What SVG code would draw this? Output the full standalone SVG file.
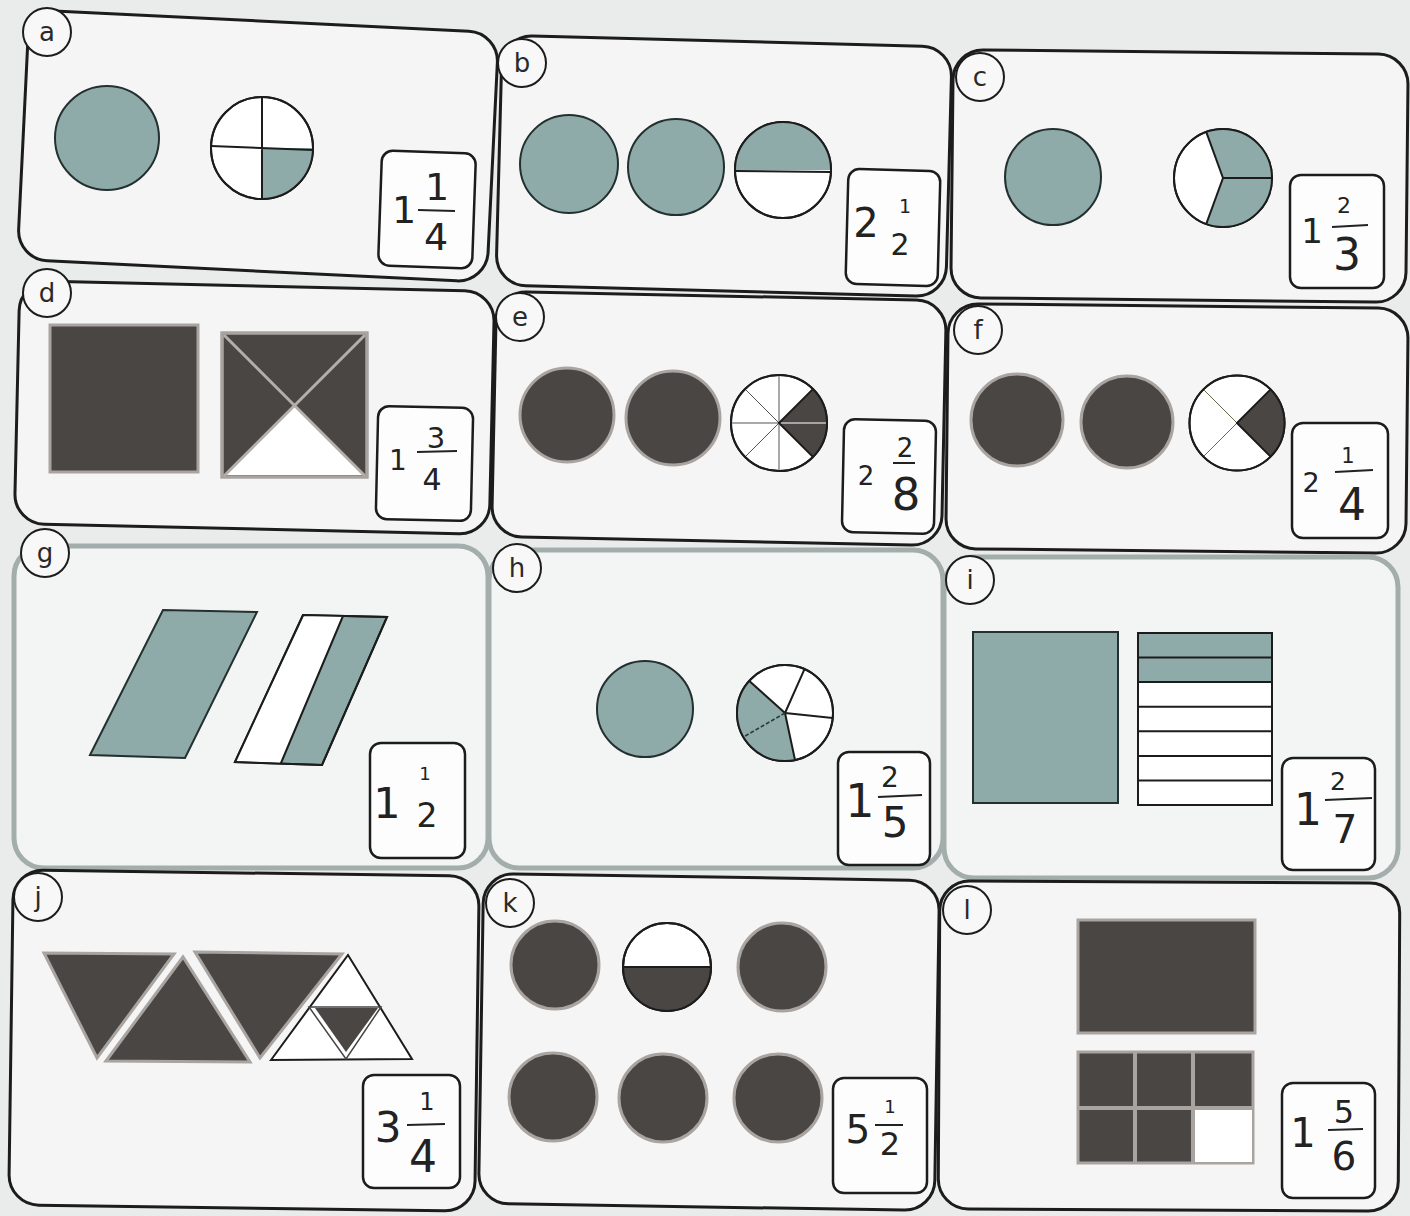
<svg xmlns="http://www.w3.org/2000/svg" width="1410" height="1216" viewBox="0 0 1410 1216">
<style>
.card{fill:#f4f5f4;stroke:#1c1c1c;stroke-width:3}
.card2{fill:#f3f5f4;stroke:#a3adac;stroke-width:5}
.lbl{fill:#f8f8f8;stroke:#1c1c1c;stroke-width:2}
.lt{font-family:"DejaVu Sans","Liberation Sans",sans-serif;font-size:26px;fill:#2a2a2a;text-anchor:middle}
.teal{fill:#8eaba9;stroke:#23302f;stroke-width:2}
.tealf{fill:#8eaba9;stroke:none}
.dark{fill:#4a4644;stroke:#aaa4a1;stroke-width:3}
.darkf{fill:#4a4644;stroke:none}
.wh{fill:#ffffff;stroke:#1c1c1c;stroke-width:2}
.ln{stroke:#1c1c1c;stroke-width:2;fill:none}
.thin{stroke:#555;stroke-width:1;fill:none}
.gl{stroke:#b5afab;stroke-width:3;fill:none}
.box{fill:#fdfdfd;stroke:#1c1c1c;stroke-width:2.5}
.n{font-family:"DejaVu Sans","Liberation Sans",sans-serif;fill:#222;text-anchor:middle}
.bar{stroke:#222;stroke-width:2}
</style>
<rect x="0" y="0" width="1410" height="1216" fill="#e9ecea"/>

<g id="card-a">
<rect class="card" x="23" y="21" width="470" height="250" rx="30" transform="rotate(2.8 258 146)"/>
<circle class="lbl" cx="47" cy="32" r="24"/><text class="lt" x="47" y="41">a</text>
<circle class="teal" cx="107" cy="138" r="52"/>
<circle class="wh" cx="262" cy="148" r="51"/>
<path class="tealf" d="M262 148 L313 148 A51 51 0 0 1 262 199 Z"/>
<circle class="ln" cx="262" cy="148" r="51"/>
<path class="ln" d="M262 97 V199 M211 146 L313 150"/>
<rect class="box" x="380" y="152" width="94" height="115" rx="11" transform="rotate(2 427 210)"/>
<text class="n" x="404" y="223" font-size="38">1</text>
<text class="n" x="437" y="200" font-size="38">1</text>
<line class="bar" x1="418" y1="210" x2="455" y2="211"/>
<text class="n" x="436" y="250" font-size="38">4</text>
</g>

<g id="card-b">
<rect class="card" x="499" y="41" width="450" height="250" rx="30" transform="rotate(1.5 724 166)"/>
<circle class="lbl" cx="522" cy="63" r="24"/><text class="lt" x="522" y="72">b</text>
<circle class="teal" cx="569" cy="164" r="49"/>
<circle class="teal" cx="676" cy="167" r="48"/>
<circle class="wh" cx="783" cy="170" r="48"/>
<path class="tealf" d="M735 170 A48 48 0 0 1 831 170 Z"/>
<circle class="ln" cx="783" cy="170" r="48"/>
<line class="ln" x1="735" y1="171" x2="831" y2="172"/>
<rect class="box" x="847" y="170" width="92" height="115" rx="11" transform="rotate(1.5 893 227)"/>
<text class="n" x="866" y="237" font-size="40">2</text>
<text class="n" x="905" y="213" font-size="19">1</text>
<text class="n" x="900" y="255" font-size="30">2</text>
</g>

<g id="card-c">
<rect class="card" x="952" y="52" width="455" height="248" rx="30" transform="rotate(0.6 1179 176)"/>
<circle class="lbl" cx="980" cy="77" r="24"/><text class="lt" x="980" y="86">c</text>
<circle class="teal" cx="1053" cy="177" r="48"/>
<circle class="wh" cx="1223" cy="178" r="49"/>
<path class="tealf" d="M1223 178 L1206.2 131.9 A49 49 0 1 1 1206.2 224.1 Z"/>
<circle class="ln" cx="1223" cy="178" r="49"/>
<path class="ln" d="M1206.2 131.9 L1223 178 L1206.2 224.1 M1223 178 H1272"/>
<rect class="box" x="1290" y="175" width="94" height="113" rx="11"/>
<text class="n" x="1312" y="243" font-size="34">1</text>
<text class="n" x="1344" y="213" font-size="22">2</text>
<line class="bar" x1="1332" y1="227" x2="1368" y2="225"/>
<text class="n" x="1347" y="270" font-size="44">3</text>
</g>

<g id="card-d">
<rect class="card" x="17" y="286" width="475" height="243" rx="30" transform="rotate(1.3 254 407)"/>
<circle class="lbl" cx="47" cy="293" r="24"/><text class="lt" x="47" y="302">d</text>
<rect class="dark" x="50" y="325" width="148" height="147"/>
<rect class="dark" x="222" y="333" width="145" height="144"/>
<path d="M225 475 L294.5 405 L364 475 Z" fill="#ffffff"/>
<path class="gl" d="M224 335 L365 476 M365 335 L224 476"/>
<rect x="222" y="333" width="145" height="144" fill="none" stroke="#aaa4a1" stroke-width="3"/>
<rect class="box" x="377" y="407" width="95" height="113" rx="11" transform="rotate(1.3 424 463)"/>
<text class="n" x="398" y="470" font-size="28">1</text>
<text class="n" x="436" y="448" font-size="29">3</text>
<line class="bar" x1="417" y1="452" x2="457" y2="451"/>
<text class="n" x="432" y="490" font-size="30">4</text>
</g>

<g id="card-e">
<rect class="card" x="494" y="296" width="450" height="245" rx="30" transform="rotate(1.2 719 418)"/>
<circle class="lbl" cx="520" cy="317" r="24"/><text class="lt" x="520" y="326">e</text>
<circle class="dark" cx="567" cy="415" r="47"/>
<circle class="dark" cx="673" cy="418" r="47"/>
<circle class="wh" cx="779" cy="423" r="48"/>
<path class="thin" d="M731 423 H827 M779 375 V471 M745.1 389.1 L812.9 456.9 M745.1 456.9 L812.9 389.1"/>
<path class="darkf" d="M779 423 L812.9 389.1 A48 48 0 0 1 812.9 456.9 Z"/>
<path d="M779 423 H827" stroke="#c8c4c0" stroke-width="1.5"/>
<path class="ln" d="M812.9 389.1 L779 423 L812.9 456.9"/>
<circle class="ln" cx="779" cy="423" r="48"/>
<rect class="box" x="843" y="420" width="92" height="113" rx="11" transform="rotate(1.2 889 476)"/>
<text class="n" x="866" y="485" font-size="26">2</text>
<text class="n" x="905" y="457" font-size="26">2</text>
<line class="bar" x1="893" y1="463" x2="915" y2="463"/>
<text class="n" x="906" y="510" font-size="45">8</text>
</g>

<g id="card-f">
<rect class="card" x="947" y="306" width="460" height="245" rx="30" transform="rotate(0.6 1177 428)"/>
<circle class="lbl" cx="978" cy="330" r="24"/><text class="lt" x="978" y="339">f</text>
<circle class="dark" cx="1017" cy="420" r="46"/>
<circle class="dark" cx="1127" cy="422" r="46"/>
<circle class="wh" cx="1237" cy="423" r="47.5"/>
<path class="darkf" d="M1237 423 L1270.6 389.4 A47.5 47.5 0 0 1 1270.6 456.6 Z"/>
<path d="M1203.4 389.4 L1237 423 L1203.4 456.6" stroke="#6b6b4a" stroke-width="1" fill="none"/>
<path class="ln" d="M1270.6 389.4 L1237 423 L1270.6 456.6"/>
<circle class="ln" cx="1237" cy="423" r="47.5"/>
<rect class="box" x="1292" y="423" width="96" height="115" rx="11"/>
<text class="n" x="1311" y="492" font-size="27">2</text>
<text class="n" x="1348" y="463" font-size="21">1</text>
<line class="bar" x1="1335" y1="472" x2="1373" y2="470"/>
<text class="n" x="1352" y="520" font-size="44">4</text>
</g>

<g id="card-g">
<rect class="card2" x="14" y="546" width="474" height="322" rx="30"/>
<circle class="lbl" cx="45" cy="553" r="24"/><text class="lt" x="45" y="562">g</text>
<path class="teal" d="M90 755 L163 610 L257 612 L185 758 Z"/>
<path class="teal" d="M235 762 L303 615 L387 617 L322 765 Z"/>
<path d="M236 761 L304 616 L343 616 L281 763 Z" fill="#ffffff"/>
<path class="ln" d="M235 762 L303 615 L387 617 L322 765 Z M281 763 L343 616"/>
<rect class="box" x="370" y="743" width="95" height="115" rx="11"/>
<text class="n" x="387" y="818" font-size="43">1</text>
<text class="n" x="425" y="780" font-size="18">1</text>
<text class="n" x="427" y="827" font-size="33">2</text>
</g>

<g id="card-h">
<rect class="card2" x="489" y="550" width="454" height="318" rx="30"/>
<circle class="lbl" cx="517" cy="568" r="24"/><text class="lt" x="517" y="577">h</text>
<circle class="teal" cx="645" cy="709" r="48"/>
<circle class="wh" cx="785" cy="713" r="48"/>
<path class="tealf" d="M785 713 L795 760 A48 48 0 0 1 749.3 680.9 Z"/>
<path class="ln" d="M785 713 L795 760 M785 713 L749.3 680.9 M785 713 L804.5 669.2 M785 713 L832.7 718"/>
<path d="M785 713 L743.4 737" stroke="#2b3b3a" stroke-width="1.5" stroke-dasharray="4 2"/>
<circle class="ln" cx="785" cy="713" r="48"/>
<rect class="box" x="838" y="752" width="92" height="113" rx="11"/>
<text class="n" x="860" y="817" font-size="46">1</text>
<text class="n" x="890" y="787" font-size="28">2</text>
<line class="bar" x1="878" y1="797" x2="922" y2="795"/>
<text class="n" x="895" y="837" font-size="42">5</text>
</g>

<g id="card-i">
<rect class="card2" x="944" y="557" width="454" height="321" rx="30"/>
<circle class="lbl" cx="970" cy="580" r="24"/><text class="lt" x="970" y="589">i</text>
<rect class="teal" x="973" y="632" width="145" height="171"/>
<rect class="wh" x="1138" y="633" width="134" height="172"/>
<rect class="tealf" x="1139" y="634" width="132" height="48"/>
<path class="ln" d="M1138 657.6 H1272 M1138 682.1 H1272 M1138 706.7 H1272 M1138 731.3 H1272 M1138 755.9 H1272 M1138 780.4 H1272"/>
<rect class="ln" x="1138" y="633" width="134" height="172"/>
<rect class="box" x="1282" y="758" width="93" height="112" rx="11"/>
<text class="n" x="1308" y="825" font-size="44">1</text>
<text class="n" x="1338" y="790" font-size="25">2</text>
<line class="bar" x1="1325" y1="800" x2="1372" y2="798"/>
<text class="n" x="1345" y="843" font-size="39">7</text>
</g>

<g id="card-j">
<rect class="card" x="11" y="873" width="466" height="335" rx="30" transform="rotate(0.8 244 1040)"/>
<circle class="lbl" cx="38" cy="897" r="24"/><text class="lt" x="38" y="906">j</text>
<path class="dark" d="M44 953 L174 954 L97 1058 Z"/>
<path class="dark" d="M106 1061 L183 957 L250 1062 Z"/>
<path class="dark" d="M195 952 L342 954 L260 1058 Z"/>
<path class="wh" d="M271 1060 L348 955 L412 1059 Z" stroke="#444" stroke-width="2"/>
<path class="darkf" d="M315 1008 L378 1008 L346 1052 Z"/>
<path d="M309 1007 L381 1007 L346 1059 Z" fill="none" stroke="#444" stroke-width="1.5"/>
<rect class="box" x="363" y="1075" width="97" height="113" rx="11"/>
<text class="n" x="388" y="1142" font-size="42">3</text>
<text class="n" x="427" y="1110" font-size="24">1</text>
<line class="bar" x1="407" y1="1125" x2="445" y2="1124"/>
<text class="n" x="423" y="1172" font-size="44">4</text>
</g>

<g id="card-k">
<rect class="card" x="481" y="877" width="456" height="330" rx="30" transform="rotate(0.9 709 1042)"/>
<circle class="lbl" cx="510" cy="903" r="24"/><text class="lt" x="510" y="912">k</text>
<circle class="dark" cx="555" cy="965" r="44"/>
<circle class="wh" cx="667" cy="967" r="44"/>
<path class="darkf" d="M623 967 A44 44 0 0 0 711 967 Z"/>
<line class="ln" x1="623" y1="967" x2="711" y2="967"/>
<circle class="ln" cx="667" cy="967" r="44"/>
<circle class="dark" cx="782" cy="967" r="44"/>
<circle class="dark" cx="553" cy="1097" r="44"/>
<circle class="dark" cx="663" cy="1098" r="44"/>
<circle class="dark" cx="778" cy="1098" r="44"/>
<rect class="box" x="833" y="1078" width="94" height="115" rx="11"/>
<text class="n" x="858" y="1143" font-size="39">5</text>
<text class="n" x="890" y="1113" font-size="18">1</text>
<line class="bar" x1="875" y1="1125" x2="903" y2="1125"/>
<text class="n" x="890" y="1155" font-size="32">2</text>
</g>

<g id="card-l">
<rect class="card" x="939" y="882" width="460" height="328" rx="30" transform="rotate(0.3 1169 1046)"/>
<circle class="lbl" cx="967" cy="910" r="24"/><text class="lt" x="967" y="919">l</text>
<rect class="dark" x="1078" y="920" width="177" height="113"/>
<rect x="1078" y="1052" width="175" height="111" fill="#4a4644" stroke="#aaa4a1" stroke-width="3"/>
<rect x="1193" y="1108" width="59" height="54" fill="#ffffff"/>
<path d="M1135 1052 V1163 M1193 1052 V1163 M1078 1108 H1253" stroke="#aaa4a1" stroke-width="4"/>
<rect class="box" x="1282" y="1083" width="93" height="115" rx="11"/>
<text class="n" x="1303" y="1147" font-size="40">1</text>
<text class="n" x="1344" y="1123" font-size="32">5</text>
<line class="bar" x1="1328" y1="1130" x2="1363" y2="1129"/>
<text class="n" x="1344" y="1170" font-size="39">6</text>
</g>
</svg>
